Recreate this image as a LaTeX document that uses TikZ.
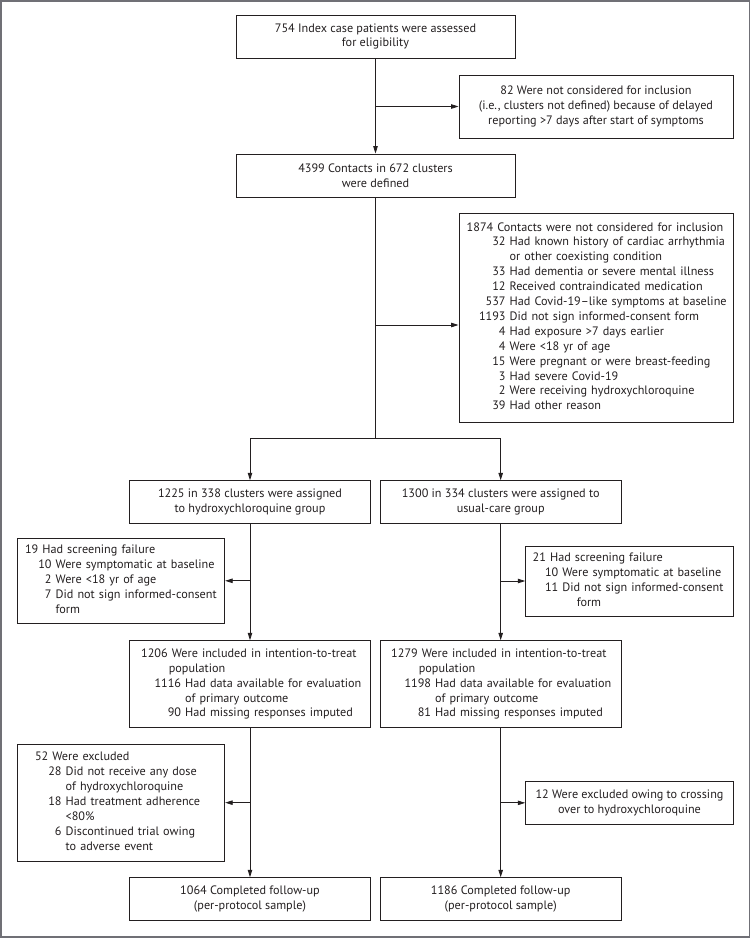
\documentclass[tikz,border=0pt]{standalone}
\usepackage{fontspec}
\setmainfont{PT Sans}
\usetikzlibrary{arrows.meta}
\definecolor{framegray}{RGB}{112,112,118}
\definecolor{ink}{RGB}{35,31,32}
\begin{document}
\begin{tikzpicture}[x=1pt,y=-1pt,
  font=\fontsize{12.2}{14.9}\selectfont,
  box/.style={draw=ink, line width=0.9pt, inner ysep=0pt, inner xsep=2pt, text=ink, align=center},
  lbox/.style={draw=ink, line width=0.9pt, inner ysep=0pt, text=ink, align=left},
  arr/.style={draw=ink, line width=0.8pt, -{Triangle[length=7.5pt,width=4.5pt]}},
  ln/.style={draw=ink, line width=0.8pt}]
\useasboundingbox (0,0) rectangle (751,938);
\draw[framegray, line width=1.8pt] (1,1) rectangle (749.5,937);

\node[box, minimum width=279pt, minimum height=43pt] (idx) at (375.5,36.5)
  {754 Index case patients were assessed\\for eligibility};
\node[box, minimum width=274pt, minimum height=63pt] (excl1) at (596,106.5)
  {82 Were not considered for inclusion\\(i.e., clusters not defined) because of delayed\\reporting >7 days after start of symptoms};
\node[box, minimum width=279pt, minimum height=43pt] (contacts) at (375.5,175.5)
  {4399 Contacts in 672 clusters\\were defined};
\node[lbox, minimum width=274pt, minimum height=209pt, inner xsep=7.7pt, text width=258.6pt] (excl2) at (596,317.5)
  {\begin{tabular}{@{\hspace{12.3pt}}r@{\ }l@{}}
   \multicolumn{2}{@{}l@{}}{1874 Contacts were not considered for inclusion}\\
   32 & Had known history of cardiac arrhythmia\\
      & or other coexisting condition\\
   33 & Had dementia or severe mental illness\\
   12 & Received contraindicated medication\\
   537 & Had Covid-19–like symptoms at baseline\\
   1193 & Did not sign informed-consent form\\
   4 & Had exposure >7 days earlier\\
   4 & Were <18 yr of age\\
   15 & Were pregnant or were breast-feeding\\
   3 & Had severe Covid-19\\
   2 & Were receiving hydroxychloroquine\\
   39 & Had other reason
   \end{tabular}};

\node[box, minimum width=241pt, minimum height=42.6pt] (hcq) at (250,502)
  {1225 in 338 clusters were assigned\\to hydroxychloroquine group};
\node[box, minimum width=241pt, minimum height=42.6pt] (usual) at (500.7,502)
  {1300 in 334 clusters were assigned to\\usual-care group};

\node[lbox, minimum width=207.4pt, minimum height=85pt, inner xsep=7.7pt, text width=192pt] (scrL) at (121,580.8)
  {\begin{tabular}{@{\hspace{13.3pt}}r@{\ }l@{}}
   \multicolumn{2}{@{}l@{}}{19 Had screening failure}\\
   10 & Were symptomatic at baseline\\
   2 & Were <18 yr of age\\
   7 & Did not sign informed-consent\\
     & form
   \end{tabular}};
\node[lbox, minimum width=207.6pt, minimum height=70pt, inner xsep=7pt, text width=193.6pt] (scrR) at (629.5,581)
  {\begin{tabular}{@{\hspace{12.3pt}}r@{\ }l@{}}
   \multicolumn{2}{@{}l@{}}{21 Had screening failure}\\
   10 & Were symptomatic at baseline\\
   11 & Did not sign informed-consent\\
      & \hspace{14.4pt}form
   \end{tabular}};

\node[lbox, minimum width=241pt, minimum height=87pt, inner xsep=11.7pt, text width=217.6pt] (ittL) at (250,684.2)
  {\begin{tabular}{@{\hspace{13.3pt}}r@{\ }l@{}}
   \multicolumn{2}{@{}l@{}}{1206 Were included in intention-to-treat}\\
   \multicolumn{2}{@{}l@{}}{\hspace{27.6pt}population}\\
   1116 & Had data available for evaluation\\
        & of primary outcome\\
   90 & Had missing responses imputed
   \end{tabular}};
\node[lbox, minimum width=241pt, minimum height=87pt, inner xsep=11pt, text width=219pt] (ittR) at (500.7,684.2)
  {\begin{tabular}{@{\hspace{13.3pt}}r@{\ }l@{}}
   \multicolumn{2}{@{}l@{}}{1279 Were included in intention-to-treat}\\
   \multicolumn{2}{@{}l@{}}{\hspace{27.6pt}population}\\
   1198 & Had data available for evaluation\\
        & of primary outcome\\
   81 & Had missing responses imputed
   \end{tabular}};

\node[lbox, minimum width=207.4pt, minimum height=117.3pt, inner xsep=17.7pt, text width=172pt] (exL) at (121,802.65)
  {\begin{tabular}{@{\hspace{13.3pt}}r@{\ }l@{}}
   \multicolumn{2}{@{}l@{}}{52 Were excluded}\\
   28 & Did not receive any dose\\
      & of hydroxychloroquine\\
   18 & Had treatment adherence\\
      & <80\%\\
   6 & Discontinued trial owing\\
     & to adverse event
   \end{tabular}};
\node[box, minimum width=207.6pt, minimum height=42.3pt] (exR) at (629.5,802.85)
  {12 Were excluded owing to crossing\\over to hydroxychloroquine};

\node[box, minimum width=241pt, minimum height=42.3pt] (finL) at (250,898.85)
  {1064 Completed follow-up\\(per-protocol sample)};
\node[box, minimum width=241pt, minimum height=42.3pt] (finR) at (500.7,898.85)
  {1186 Completed follow-up\\(per-protocol sample)};

% connectors
\draw[arr] (idx) -- (contacts);
\coordinate (b1) at (idx.south |- excl1.west);
\draw[arr] (b1) -- (excl1.west);
\coordinate (sp) at (contacts.south |- 0,438.3);
\draw[ln] (contacts.south) -- (sp);
\draw[arr] (sp) -| (hcq.north);
\draw[arr] (sp) -| (usual.north);
\coordinate (b2) at (contacts.south |- 0,325);
\draw[arr] (b2) -- (b2 -| excl2.west);
\draw[arr] (hcq) -- (ittL);
\coordinate (b3) at (hcq.south |- scrL.east);
\draw[arr] (b3) -- (scrL.east);
\draw[arr] (usual) -- (ittR);
\coordinate (b4) at (usual.south |- scrR.west);
\draw[arr] (b4) -- (scrR.west);
\draw[arr] (ittL) -- (finL);
\coordinate (b5) at (ittL.south |- exL.east);
\draw[arr] (b5) -- (exL.east);
\draw[arr] (ittR) -- (finR);
\coordinate (b6) at (ittR.south |- exR.west);
\draw[arr] (b6) -- (exR.west);
\end{tikzpicture}
\end{document}
